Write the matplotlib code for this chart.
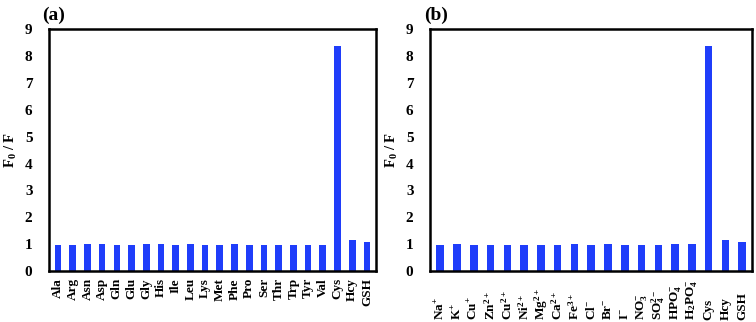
import matplotlib
matplotlib.use("Agg")
import matplotlib.pyplot as plt
import numpy as np

plt.rcParams['font.family'] = ['Liberation Serif', 'DejaVu Serif']
plt.rcParams['font.weight'] = 'bold'
plt.rcParams['mathtext.fontset'] = 'custom'
plt.rcParams['mathtext.rm'] = 'Liberation Serif:bold'
plt.rcParams['mathtext.bf'] = 'Liberation Serif:bold'
plt.rcParams['mathtext.it'] = 'Liberation Serif:bold'

amino_labels = ['Ala', 'Arg', 'Asn', 'Asp', 'Gln', 'Glu', 'Gly', 'His', 'Ile', 'Leu',
                'Lys', 'Met', 'Phe', 'Pro', 'Ser', 'Thr', 'Trp', 'Tyr', 'Val', 'Cys',
                'Hcy', 'GSH']
amino_values = [0.98, 0.98, 0.99, 1.00, 0.98, 0.98, 0.99, 0.99, 0.97, 1.00,
                0.97, 0.98, 1.00, 0.98, 0.97, 0.98, 0.98, 0.98, 0.98, 8.37,
                1.14, 1.07]

ion_labels = [r'Na$^{+}$', r'K$^{+}$', r'Cu$^{+}$', r'Zn$^{2+}$', r'Cu$^{2+}$',
              r'Ni$^{2+}$', r'Mg$^{2+}$', r'Ca$^{2+}$', r'Fe$^{3+}$', r'Cl$^{-}$',
              r'Br$^{-}$', r'I$^{-}$', r'NO$_3^{-}$', r'SO$_4^{2-}$', r'HPO$_4^{-}$',
              r'H$_2$PO$_4^{-}$', 'Cys', 'Hcy', 'GSH']
ion_values = [0.98, 0.99, 0.98, 0.98, 0.98, 0.96, 0.97, 0.97, 1.00, 0.98,
              1.00, 0.98, 0.98, 0.97, 1.00, 0.99, 8.37, 1.14, 1.08]

bar_color = '#1f3dfa'

fig = plt.figure(figsize=(7.56, 3.22), dpi=100)
ax_a = fig.add_axes([0.065, 0.158, 0.432, 0.752])
ax_b = fig.add_axes([0.569, 0.158, 0.426, 0.752])

def style(ax, labels, values):
    x = np.arange(len(labels))
    ax.bar(x, values, width=0.45, color=bar_color)
    ax.set_xlim(-0.6, len(labels) - 0.4)
    ax.set_ylim(0, 9)
    ax.set_yticks(range(0, 10))
    ax.set_xticks(x)
    for s in ax.spines.values():
        s.set_linewidth(1.8)
    ax.tick_params(axis='both', length=0)
    ax.tick_params(axis='y', labelsize=11, pad=12)
    ax.set_ylabel(r'F$_0$ / F', fontsize=10.5, fontweight='bold', labelpad=4)
    return x

style(ax_a, amino_labels, amino_values)
ax_a.set_xticklabels(amino_labels, rotation=90, fontsize=9.5, fontweight='bold', va='top')
ax_a.tick_params(axis='x', pad=5)

style(ax_b, ion_labels, ion_values)
ax_b.set_xticklabels(ion_labels, rotation=90, fontsize=9.5, fontweight='bold', va='bottom')
ax_b.tick_params(axis='x', pad=35)

ax_a.text(-0.02, 1.02, '(a)', transform=ax_a.transAxes, fontsize=14, fontweight='bold',
          ha='left', va='bottom')
ax_b.text(-0.02, 1.02, '(b)', transform=ax_b.transAxes, fontsize=14, fontweight='bold',
          ha='left', va='bottom')

fig.savefig('out.png', dpi=100)
